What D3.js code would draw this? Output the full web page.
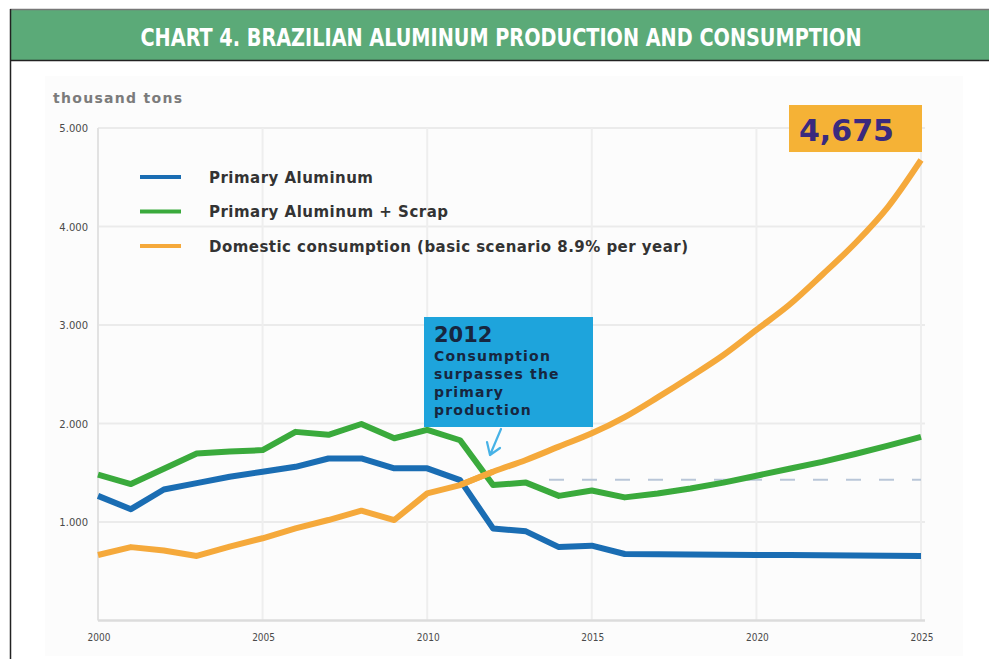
<!DOCTYPE html>
<html>
<head>
<meta charset="utf-8">
<script src="https://cdn.jsdelivr.net/npm/d3@7"></script>
<style>
  html, body { margin: 0; padding: 0; background: #fff; }
  svg { display: block; }
</style>
</head>
<body>
<svg id="chart" width="989" height="659"></svg>
<script>
// Dados (mil toneladas)
const years = [2000, 2001, 2002, 2003, 2004, 2005, 2006, 2007, 2008, 2009, 2010, 2011, 2012,
               2013, 2014, 2015, 2016, 2017, 2018, 2019, 2020, 2021, 2022, 2023, 2024, 2025];
const primaryAluminum = [1265, 1130, 1330, 1395, 1460, 1510, 1560, 1645, 1645, 1545, 1545, 1425, 935,
                         905, 745, 760, 675, 672, 670, 668, 666, 664, 662, 660, 657, 655];
const primaryPlusScrap = [1480, 1385, 1540, 1695, 1715, 1730, 1915, 1885, 1995, 1850, 1935, 1830, 1375,
                          1400, 1265, 1320, 1250, 1290, 1340, 1400, 1470, 1540, 1610, 1690, 1775, 1865];
const domesticConsumption = [665, 745, 710, 655, 750, 835, 935, 1020, 1115, 1020, 1290, 1375, 1510,
                             1630, 1765, 1900, 2065, 2265, 2475, 2695, 2950, 3205, 3510, 3830, 4200, 4675];

const seriesNames = ["Primary Aluminum", "Primary Aluminum + Scrap", "Domestic consumption (basic scenario 8.9% per year)"];
const seriesColors = ["#1a6db3", "#3aaa3c", "#f5a93b"];

const yTicks = [1000, 2000, 3000, 4000, 5000];
const xTicks = [2000, 2005, 2010, 2015, 2020, 2025];

// Ano a partir do qual o consumo é projeção (curva suave)
const projectionStart = 2012;

// Linha tracejada (nível da produção primária)
const dashedLevel = 1430;
const dashedFrom = 2013.7;

const chartTitle = "CHART 4. BRAZILIAN ALUMINUM PRODUCTION AND CONSUMPTION";
const unitLabel = "thousand tons";
const calloutYear = "2012";
const calloutLines = ["Consumption", "surpasses the", "primary", "production"];
const finalLabel = "4,675";

const svg = d3.select("#chart");

// Moldura e barra do título
svg.append("rect").attr("x", 10).attr("y", 9).attr("width", 979).attr("height", 650).attr("fill", "#fff");
svg.append("rect").attr("x", 10).attr("y", 10).attr("width", 979).attr("height", 50).attr("fill", "#5baa78");
svg.append("line").attr("x1", 10).attr("x2", 989).attr("y1", 9.5).attr("y2", 9.5).attr("stroke", "#777").attr("stroke-width", 1.5);
svg.append("line").attr("x1", 10).attr("x2", 989).attr("y1", 60.5).attr("y2", 60.5).attr("stroke", "#222").attr("stroke-width", 1.5);
svg.append("line").attr("x1", 10.5).attr("x2", 10.5).attr("y1", 9).attr("y2", 659).attr("stroke", "#222").attr("stroke-width", 1.5);

svg.append("text")
  .attr("x", 501).attr("y", 46)
  .attr("text-anchor", "middle")
  .attr("fill", "#fff")
  .style("font-family", "'Liberation Sans Narrow', 'DejaVu Sans Condensed', sans-serif")
  .style("font-stretch", "condensed")
  .style("font-weight", "bold")
  .style("font-size", "25px")
  .attr("textLength", 721)
  .attr("lengthAdjust", "spacingAndGlyphs")
  .text(chartTitle);

// Fundo do painel
svg.append("rect").attr("x", 45).attr("y", 76).attr("width", 918).attr("height", 580).attr("fill", "#fcfcfc");

// Escalas
const x = d3.scaleLinear().domain([2000, 2025]).range([98, 921]);
const y = d3.scaleLinear().domain([0, 5000]).range([620.5, 128]);

// Grade
const grid = svg.append("g");
grid.selectAll(".hgrid").data(yTicks).join("line")
  .attr("x1", x(2000)).attr("x2", x(2025) + 4)
  .attr("y1", d => y(d)).attr("y2", d => y(d))
  .attr("stroke", "#ebebeb").attr("stroke-width", 2);
grid.selectAll(".vgrid").data(xTicks).join("line")
  .attr("x1", d => x(d)).attr("x2", d => x(d))
  .attr("y1", y(5000)).attr("y2", y(0))
  .attr("stroke", d => d === 2000 ? "#e2e2e2" : "#eeeeee").attr("stroke-width", 2);

// Eixo X
svg.append("line")
  .attr("x1", x(2000)).attr("x2", x(2025) + 4)
  .attr("y1", y(0)).attr("y2", y(0))
  .attr("stroke", "#dcdcdc").attr("stroke-width", 2.5);

const fmt = d3.formatLocale({decimal: ",", thousands: ".", grouping: [3], currency: ["", ""]}).format(",");

svg.append("g").selectAll("text").data(yTicks).join("text")
  .attr("x", 88).attr("y", d => y(d) + 4)
  .attr("text-anchor", "end")
  .attr("fill", "#4a4a4a")
  .style("font-family", "'DejaVu Sans', sans-serif")
  .style("font-size", "10px")
  .text(d => fmt(d));

svg.append("g").selectAll("text").data(xTicks).join("text")
  .attr("x", d => x(d) + 1).attr("y", 641)
  .attr("text-anchor", "middle")
  .attr("fill", "#4a4a4a")
  .style("font-family", "'DejaVu Sans Condensed', 'Liberation Sans Narrow', sans-serif")
  .style("font-stretch", "condensed")
  .style("font-size", "10px")
  .text(d => d);

svg.append("text")
  .attr("x", 53).attr("y", 103)
  .attr("fill", "#7b7b7b")
  .style("font-family", "'DejaVu Sans', sans-serif")
  .style("font-weight", "bold")
  .style("font-size", "14px")
  .attr("textLength", 129)
  .attr("lengthAdjust", "spacing")
  .text(unitLabel);

// Linha tracejada
svg.append("line")
  .attr("x1", x(dashedFrom)).attr("x2", x(2025))
  .attr("y1", y(dashedLevel)).attr("y2", y(dashedLevel))
  .attr("stroke", "#b9c6d8").attr("stroke-width", 2)
  .attr("stroke-dasharray", "15 18");

// Séries: histórico em segmentos, projeção do consumo com curva suave
const toPoints = vals => vals.map((v, i) => [years[i], v]);
const lineSharp = d3.line().x(d => x(d[0])).y(d => y(d[1]));
const lineSmooth = d3.line().x(d => x(d[0])).y(d => y(d[1])).curve(d3.curveMonotoneX);

const consumptionPts = toPoints(domesticConsumption);
const paths = [
  {d: lineSharp(toPoints(primaryAluminum)), c: seriesColors[0]},
  {d: lineSharp(toPoints(primaryPlusScrap)), c: seriesColors[1]},
  {d: lineSharp(consumptionPts.filter(p => p[0] <= projectionStart)), c: seriesColors[2]},
  {d: lineSmooth(consumptionPts.filter(p => p[0] >= projectionStart - 1)), c: seriesColors[2]}
];

svg.append("g").selectAll("path").data(paths).join("path")
  .attr("d", p => p.d)
  .attr("fill", "none")
  .attr("stroke", p => p.c)
  .attr("stroke-width", 6)
  .attr("stroke-linejoin", "round");

// Legenda
const legendWidths = [164, 239, 479];
const legend = svg.append("g");
seriesNames.forEach((name, i) => {
  const ly = 177 + i * 34.5;
  legend.append("line")
    .attr("x1", 140).attr("x2", 181)
    .attr("y1", ly).attr("y2", ly)
    .attr("stroke", seriesColors[i]).attr("stroke-width", 4);
  legend.append("text")
    .attr("x", 209).attr("y", ly + 5.5)
    .attr("fill", "#333")
    .style("font-family", "'DejaVu Sans', sans-serif")
    .style("font-weight", "bold")
    .style("font-size", "15px")
    .attr("textLength", legendWidths[i])
    .attr("lengthAdjust", "spacing")
    .text(name);
});

// Caixa de anotação 2012
const callout = svg.append("g");
callout.append("rect")
  .attr("x", 424).attr("y", 317).attr("width", 169).attr("height", 110)
  .attr("fill", "#1ea4dc");
callout.append("text")
  .attr("x", 434).attr("y", 342)
  .attr("fill", "#17263f")
  .style("font-family", "'DejaVu Sans', sans-serif")
  .style("font-weight", "bold")
  .style("font-size", "21px")
  .text(calloutYear);
callout.selectAll(".cl").data(calloutLines).join("text")
  .attr("x", 434).attr("y", (d, i) => 361 + i * 18)
  .attr("fill", "#17263f")
  .style("font-family", "'DejaVu Sans', sans-serif")
  .style("font-weight", "bold")
  .style("font-size", "14px")
  .style("letter-spacing", "1.2px")
  .text(d => d);

// Seta
callout.append("path")
  .attr("d", "M501,429 L490,455 M487,442 L490,455 L500,448")
  .attr("fill", "none")
  .attr("stroke", "#47b2e6")
  .attr("stroke-width", 2.2)
  .attr("stroke-linecap", "round")
  .attr("stroke-linejoin", "round");

// Rótulo do valor final
const lastVal = domesticConsumption[domesticConsumption.length - 1];
const boxRight = x(2025) + 1;
const boxBottom = y(lastVal) - 8;
svg.append("rect")
  .attr("x", boxRight - 133).attr("y", boxBottom - 47)
  .attr("width", 133).attr("height", 47)
  .attr("fill", "#f5b236");
svg.append("text")
  .attr("x", boxRight - 123).attr("y", boxBottom - 11)
  .attr("fill", "#3a2a7e")
  .style("font-family", "'DejaVu Sans', sans-serif")
  .style("font-weight", "bold")
  .style("font-size", "30px")
  .text(finalLabel);
</script>
</body>
</html>
